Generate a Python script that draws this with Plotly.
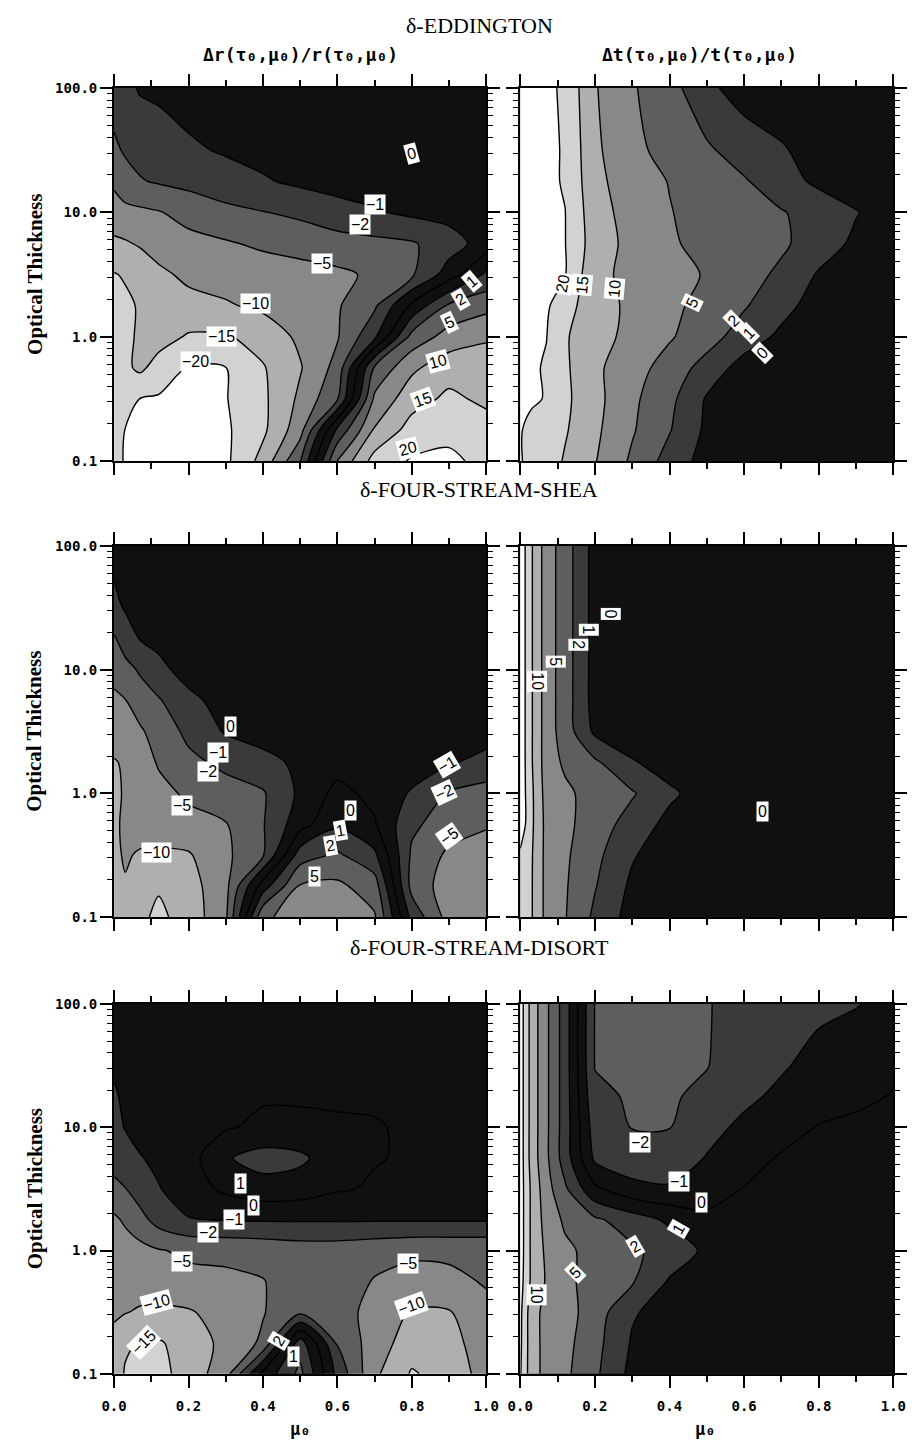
import numpy as np
import plotly.graph_objects as go

# ---------------- data ----------------
MU = [0.0, 0.03, 0.07, 0.12, 0.2, 0.3, 0.4, 0.5, 0.6, 0.7, 0.8, 0.9, 1.0]
TAU = [0.1, 0.178, 0.316, 0.562, 1.0, 1.78, 3.16, 5.62, 10.0, 17.8, 31.6, 100.0]
LEVELS = [-20, -15, -10, -5, -2, -1, 0, 1, 2, 5, 10, 15, 20]

# rows follow TAU (bottom -> top), columns follow MU
EDD_R = [
    [-18, -22, -23.5, -24, -25, -24, -13.3, -2.2, 5.3, 17, 22, 23, 19],
    [-17, -20.5, -23, -23, -24, -23, -16, -7, 1.2, 10.5, 17, 19, 17],
    [-18, -18, -20.3, -22, -23, -21, -16, -9, -2.3, 6, 13, 16, 14],
    [-17.5, -16, -14, -17, -21, -20.4, -15.4, -10.4, -4, 2.4, 9, 13, 12],
    [-17, -16.5, -14, -13, -15.5, -15.5, -13, -9, -5.4, -1.2, 3, 7, 9.5],
    [-16.5, -16, -14.5, -12.5, -11.5, -10.5, -9, -7, -5.5, -2.5, 0.2, 2.5, 4],
    [-15.3, -14.5, -13, -11, -9, -8, -7.5, -7, -6, -4.5, -2.5, -0.5, 1.2],
    [-11, -10.5, -9.5, -8, -6.5, -5.5, -4.5, -3.8, -3.2, -2.8, -2.3, -1.5, -0.5],
    [-7, -6.5, -6, -5.3, -4, -2.8, -2.1, -1.8, -1.4, -1.1, -0.8, -0.6, -0.4],
    [-4.5, -3, -2.2, -1.9, -1.7, -1.4, -1.1, -0.8, -0.6, -0.5, -0.4, -0.3, -0.3],
    [-2.5, -1.9, -1.7, -1.5, -1.15, -0.9, -0.7, -0.5, -0.4, -0.3, -0.3, -0.3, -0.3],
    [-1.6, -1.3, -0.9, -0.8, -0.6, -0.4, -0.4, -0.3, -0.3, -0.3, -0.3, -0.3, -0.3],
]
EDD_T = [
    [21, 19, 17.5, 14.5, 10.3, 4.5, 1.6, 0.6, 0.3, 0.2, 0.1, 0.1, 0.1],
    [21, 19, 18, 15.5, 11, 5.5, 2.2, 0.8, 0.3, 0.2, 0.1, 0.1, 0.1],
    [24, 22, 19.8, 16, 11.5, 6, 2.8, 0.9, 0.4, 0.2, 0.1, 0.1, 0.1],
    [26, 23, 19.5, 15.8, 11, 7, 3.8, 1.6, 0.6, 0.3, 0.2, 0.1, 0.1],
    [28, 25, 20.5, 15.5, 12, 8.5, 5.5, 3.3, 1.5, 0.8, 0.4, 0.2, 0.1],
    [30, 27, 23, 17, 12, 9, 6.2, 4.0, 2.3, 1.3, 0.6, 0.3, 0.2],
    [30, 28, 25, 21, 11, 9, 6.5, 4.8, 3.2, 1.8, 0.9, 0.5, 0.3],
    [30, 28, 25, 20.5, 12.5, 8.5, 5.5, 4.3, 3.5, 2.5, 1.5, 0.8, 0.4],
    [30, 28, 25, 20.4, 12, 8, 5.2, 4.0, 3.0, 2.2, 1.6, 1.05, 0.5],
    [30, 28, 25, 19.5, 11.5, 7, 4.9, 3.5, 2.3, 1.4, 0.8, 0.5, 0.3],
    [30, 28, 25, 19.5, 11, 6, 4.2, 2.5, 1.5, 1.1, 0.6, 0.4, 0.3],
    [30, 28, 25, 19, 10.4, 5.5, 3.2, 1.2, 0.6, 0.4, 0.3, 0.2, 0.2],
]
SHEA_R = [
    [-11, -11, -14, -16, -13, -6, 4.5, 7, 7.5, 5.5, -1.3, -7, -8.5],
    [-11, -10.4, -12, -14.5, -12, -6.5, 0.5, 5.4, 6, 3.5, -3, -7.5, -8],
    [-11, -9.5, -10.5, -11, -10.5, -6, -2.3, 1.5, 2.5, 1.2, -2.5, -6, -6.5],
    [-11, -9, -8, -7, -6.5, -5.3, -2.2, -0.4, 0.8, 0.1, -1.8, -3.5, -4.8],
    [-11, -9.5, -8, -6.5, -4.5, -3, -2.3, -0.8, 0.3, -0.3, -1.1, -2.3, -3.2],
    [-10.3, -9.5, -7.5, -4.7, -2.6, -1.8, -1.3, -0.8, -0.4, -0.3, -0.5, -0.9, -1.3],
    [-8, -7.5, -5.8, -3.5, -1.8, -0.9, -0.6, -0.4, -0.2, -0.1, -0.2, -0.4, -0.6],
    [-6, -5.2, -3.2, -2.3, -1.2, -0.7, -0.4, -0.2, -0.1, -0.1, -0.1, -0.1, -0.2],
    [-4.0, -2.8, -1.9, -1.2, -0.7, -0.4, -0.3, -0.2, -0.1, -0.1, -0.1, -0.1, -0.1],
    [-2.3, -1.6, -0.95, -0.8, -0.5, -0.3, -0.2, -0.2, -0.1, -0.1, -0.1, -0.1, -0.1],
    [-1.3, -0.9, -0.8, -0.6, -0.4, -0.3, -0.2, -0.2, -0.1, -0.1, -0.1, -0.1, -0.1],
    [-0.6, -0.5, -0.4, -0.3, -0.2, -0.2, -0.1, -0.1, -0.1, -0.1, -0.1, -0.1, -0.1],
]
SHEA_T = [
    [18, 15.4, 8.5, 5.3, 1.8, 0.6, 0.2, 0.1, 0.1, 0.1, 0.1, 0.1, 0.1],
    [18, 15.4, 8.5, 5.5, 2.2, 0.8, 0.3, 0.1, 0.1, 0.1, 0.1, 0.1, 0.1],
    [19, 15.5, 8.5, 5.8, 2.8, 1.1, 0.4, 0.2, 0.1, 0.1, 0.1, 0.1, 0.1],
    [34, 16, 8.5, 6.2, 3.5, 1.6, 0.7, 0.3, 0.1, 0.1, 0.1, 0.1, 0.1],
    [34, 16, 8, 6, 3.8, 2.3, 1.2, 0.5, 0.2, 0.1, 0.1, 0.1, 0.1],
    [34, 15.5, 7.5, 4.5, 2.5, 1.1, 0.5, 0.2, 0.1, 0.1, 0.1, 0.1, 0.1],
    [34, 15.5, 7.5, 3.6, 0.8, 0.3, 0.1, 0.1, 0.1, 0.1, 0.1, 0.1, 0.1],
    [34, 15.5, 7.5, 3.5, 0.6, 0.2, 0.1, 0.1, 0.1, 0.1, 0.1, 0.1, 0.1],
    [34, 15.5, 7.5, 3.5, 0.6, 0.2, 0.1, 0.1, 0.1, 0.1, 0.1, 0.1, 0.1],
    [34, 15.5, 7.5, 3.5, 0.6, 0.2, 0.1, 0.1, 0.1, 0.1, 0.1, 0.1, 0.1],
    [34, 15.5, 7.5, 3.5, 0.6, 0.2, 0.1, 0.1, 0.1, 0.1, 0.1, 0.1, 0.1],
    [34, 15.5, 7.5, 3.5, 0.6, 0.2, 0.1, 0.1, 0.1, 0.1, 0.1, 0.1, 0.1],
]
DISORT_R = [
    [-11, -15.6, -17, -16.5, -13, -7, 0.3, 2.8, -1.3, -9, -15.5, -13, -8],
    [-11, -14, -15.5, -15.5, -13, -8.5, -4.5, 1.5, -2.3, -7.5, -12.5, -12, -7],
    [-9.5, -9.8, -10.5, -11, -10.5, -8, -5.3, -2.6, -3.5, -7, -10.5, -10.4, -6],
    [-9, -8.5, -8, -7, -6.3, -6, -5.2, -3.5, -3.5, -5.3, -6.5, -6, -4.8],
    [-8, -7.5, -6.5, -5.3, -4.5, -4.3, -4.0, -3.5, -3.5, -4.0, -4.5, -4.5, -4.5],
    [-6, -4.5, -3, -1.6, -1.05, -0.95, -0.9, -0.9, -0.9, -0.9, -0.9, -0.9, -0.9],
    [-2.6, -2.1, -1.5, -1.05, -0.5, 0.2, 0.6, 0.5, 0.1, -0.1, -0.2, -0.3, -0.3],
    [-1.7, -1.4, -1.05, -0.8, -0.4, 0.9, 1.4, 1.2, 0.4, 0.05, -0.1, -0.2, -0.2],
    [-1.3, -0.95, -0.7, -0.5, -0.3, -0.1, 0.2, 0.2, 0.1, 0.05, -0.1, -0.1, -0.1],
    [-1.1, -0.85, -0.6, -0.45, -0.3, -0.2, -0.1, -0.1, -0.1, -0.1, -0.1, -0.1, -0.1],
    [-0.9, -0.7, -0.5, -0.4, -0.3, -0.2, -0.2, -0.2, -0.2, -0.2, -0.2, -0.2, -0.2],
    [-0.8, -0.6, -0.5, -0.4, -0.3, -0.2, -0.2, -0.2, -0.2, -0.2, -0.2, -0.2, -0.2],
]
DISORT_T = [
    [22, 12, 8.5, 6, 2.6, 0.7, 0.4, 0.3, 0.3, 0.3, 0.3, 0.3, 0.3],
    [24, 12, 8.5, 6.5, 3.0, 0.9, 0.5, 0.4, 0.4, 0.4, 0.4, 0.4, 0.4],
    [25, 12, 8.5, 7, 3.5, 1.1, 0.6, 0.4, 0.4, 0.4, 0.4, 0.4, 0.4],
    [28, 14, 9.5, 5.8, 4.2, 2.3, 0.9, 0.5, 0.4, 0.4, 0.4, 0.4, 0.4],
    [30, 14, 9, 6, 4, 2.5, 1.6, 0.8, 0.5, 0.5, 0.5, 0.5, 0.5],
    [30, 14, 8, 4.5, 2.5, 1.5, 0.8, 0.3, 0.3, 0.4, 0.5, 0.5, 0.5],
    [30, 14, 7, 2.5, 0.2, -0.7, -0.9, -0.6, 0.05, 0.3, 0.4, 0.5, 0.5],
    [30, 13, 6, 1.5, -1.2, -1.6, -1.5, -0.95, -0.4, 0.1, 0.3, 0.4, 0.4],
    [30, 13, 6, 1.5, -1.5, -2.1, -2.1, -1.3, -0.8, -0.4, 0.05, 0.2, 0.3],
    [30, 13, 6, 1.5, -1.8, -2.3, -2.3, -1.8, -1.2, -0.8, -0.4, -0.2, 0.05],
    [30, 13, 6, 1.5, -2.1, -2.5, -2.5, -2.1, -1.5, -1.1, -0.7, -0.4, -0.2],
    [30, 13, 6, 1.5, -2.1, -2.6, -2.6, -2.2, -1.6, -1.4, -1.2, -1.05, -0.7],
]

ROW_TITLES = ["δ-EDDINGTON", "δ-FOUR-STREAM-SHEA", "δ-FOUR-STREAM-DISORT"]
COL_TITLES = ["Δr(τ₀,μ₀)/r(τ₀,μ₀)", "Δt(τ₀,μ₀)/t(τ₀,μ₀)"]
Y_TITLE = "Optical Thickness"
X_TITLE = "μ₀"
X_TICKS = [0.0, 0.2, 0.4, 0.6, 0.8, 1.0]
X_TICK_TEXT = ["0.0", "0.2", "0.4", "0.6", "0.8", "1.0"]
X_MINOR = [0.1, 0.3, 0.5, 0.7, 0.9]
Y_TICKS = [0.1, 1.0, 10.0, 100.0]
Y_TICK_TEXT = ["0.1", "1.0", "10.0", "100.0"]
Y_MINOR = [m * d for d in (0.1, 1.0, 10.0) for m in range(2, 10)]

# contour labels: (text, mu0, tau0, angle)
LABELS = [
    [("0", 0.80, 30, -15), ("−1", 0.70, 11.5, 0), ("−2", 0.66, 8.0, 0), ("−5", 0.56, 3.9, 0),
     ("−10", 0.38, 1.85, 0), ("−15", 0.29, 1.0, 0), ("−20", 0.22, 0.63, 0),
     ("1", 0.96, 2.8, -40), ("2", 0.93, 2.0, -30), ("5", 0.90, 1.3, -25),
     ("10", 0.87, 0.63, -15), ("15", 0.83, 0.31, -20), ("20", 0.79, 0.126, -15)],
    [("20", 0.113, 2.7, -80), ("15", 0.165, 2.6, -85), ("10", 0.252, 2.45, -85),
     ("5", 0.46, 1.9, -65), ("2", 0.572, 1.35, -45), ("1", 0.611, 1.07, -45), ("0", 0.65, 0.74, -45)],
    [("0", 0.313, 3.47, 0), ("−1", 0.279, 2.12, 0), ("−2", 0.253, 1.51, 0), ("−5", 0.183, 0.79, 0),
     ("−10", 0.114, 0.33, 0), ("0", 0.634, 0.72, 0), ("1", 0.608, 0.50, -10), ("2", 0.582, 0.38, -10),
     ("5", 0.539, 0.214, 0), ("−1", 0.895, 1.71, -30), ("−2", 0.886, 1.02, -25), ("−5", 0.899, 0.45, -35)],
    [("0", 0.243, 28, 90), ("1", 0.183, 21, 90), ("2", 0.157, 15.8, 90), ("5", 0.096, 11.7, 90),
     ("10", 0.044, 8.1, 90), ("0", 0.65, 0.71, 0)],
    [("1", 0.34, 3.52, 0), ("0", 0.374, 2.30, 0), ("−1", 0.322, 1.80, 0), ("−2", 0.253, 1.41, 0),
     ("−5", 0.183, 0.81, 0), ("−10", 0.114, 0.38, -15), ("−15", 0.079, 0.18, -45),
     ("2", 0.443, 0.186, -60), ("1", 0.482, 0.138, 0), ("−5", 0.79, 0.79, 0), ("−10", 0.80, 0.355, -20)],
    [("−2", 0.321, 7.57, 0), ("−1", 0.425, 3.63, 0), ("0", 0.486, 2.44, 0), ("1", 0.425, 1.50, -60),
     ("2", 0.308, 1.07, -30), ("5", 0.148, 0.66, -45), ("10", 0.044, 0.44, 90)],
]

PANELS = [EDD_R, EDD_T, SHEA_R, SHEA_T, DISORT_R, DISORT_T]

# ---------------- styling ----------------
W, H = 920, 1454
X_DOM = [(104, 487), (522, 906)]             # px from left
Y_DOM = [(81, 458), (544, 919), (1007, 1381)]  # px from top
GRAYS = ["#101010", "#3a3a3a", "#5e5e5e", "#888888", "#afafaf", "#d2d2d2", "#ffffff"]
MONO = "DejaVu Sans Mono"
SERIF = "Liberation Serif"

# contour levels are unevenly spaced: draw in "level index" space
LEVEL_IDX = list(range(-6, 7))
def to_index(z):
    xp = [-40] + LEVELS + [40]
    fp = [-7] + LEVEL_IDX + [7]
    return np.interp(np.asarray(z, float), xp, fp)

colorscale = [[k / 13, GRAYS[min(int(abs(-6.5 + k)), 6)]] for k in range(14)]
ylog = np.log10(TAU)

fig = go.Figure()
layout = dict(width=W, height=H, margin=dict(l=0, r=0, t=0, b=0),
              paper_bgcolor="white", plot_bgcolor="white", showlegend=False)
annotations = []

for k, Z in enumerate(PANELS):
    r, c = divmod(k, 2)
    sfx = "" if k == 0 else str(k + 1)
    fig.add_trace(go.Contour(
        x=MU, y=ylog, z=to_index(Z), xaxis="x" + sfx, yaxis="y" + sfx,
        autocontour=False,
        contours=dict(start=-6, end=6, size=1, coloring="fill", showlines=True),
        line=dict(color="black", width=1.4, smoothing=0.85),
        colorscale=colorscale, showscale=False, hoverinfo="skip"))

    x0, x1 = X_DOM[c]
    yt, yb = Y_DOM[r]
    layout["xaxis" + sfx] = dict(
        domain=[x0 / W, x1 / W], anchor="y" + sfx, range=[0, 1],
        showline=True, linecolor="black", linewidth=2, mirror="ticks",
        ticks="outside", ticklen=12, tickwidth=1.5, tickcolor="black",
        tickmode="array", tickvals=X_TICKS, ticktext=X_TICK_TEXT,
        showticklabels=(r == 2), ticklabelstandoff=6,
        tickfont=dict(family=MONO, size=14, color="black", weight="bold"),
        minor=dict(tickmode="array", tickvals=X_MINOR, ticks="outside", ticklen=6,
                   tickwidth=1.5, tickcolor="black"),
        showgrid=False, zeroline=False, fixedrange=True)
    layout["yaxis" + sfx] = dict(
        domain=[1 - yb / H, 1 - yt / H], anchor="x" + sfx, range=[-1, 2],
        showline=True, linecolor="black", linewidth=2, mirror="ticks",
        ticks="outside", ticklen=12, tickwidth=1.5, tickcolor="black",
        tickmode="array", tickvals=list(np.log10(Y_TICKS)), ticktext=Y_TICK_TEXT,
        showticklabels=(c == 0),
        tickfont=dict(family=MONO, size=14, color="black", weight="bold"),
        minor=dict(tickmode="array", tickvals=list(np.log10(Y_MINOR)), ticks="outside",
                   ticklen=5, tickwidth=1.2, tickcolor="black"),
        showgrid=False, zeroline=False, fixedrange=True)

    for (txt, mu, tau, ang) in LABELS[k]:
        annotations.append(dict(
            x=mu, y=float(np.log10(tau)), xref="x" + sfx, yref="y" + sfx,
            text=txt, showarrow=False, textangle=ang,
            font=dict(family="Liberation Sans", size=16, color="black"),
            bgcolor="white", borderpad=1))

# row titles and y titles
for r, t in enumerate(ROW_TITLES):
    ypx = [18, 487, 950][r]
    annotations.append(dict(x=480 / W, y=1 - ypx / H, xref="paper", yref="paper",
                            text=t, showarrow=False, xanchor="center", yanchor="middle",
                            font=dict(family=SERIF, size=22, color="black")))
    yc = (Y_DOM[r][0] + Y_DOM[r][1]) / 2
    annotations.append(dict(x=22 / W, y=1 - yc / H, xref="paper", yref="paper",
                            text=Y_TITLE, showarrow=False, textangle=-90,
                            xanchor="center", yanchor="middle",
                            font=dict(family=SERIF, size=21, color="black", weight="bold")))
# column titles and x titles
for c, t in enumerate(COL_TITLES):
    xc = [296, 706][c]
    annotations.append(dict(x=xc / W, y=1 - 47 / H, xref="paper", yref="paper",
                            text=t, showarrow=False, xanchor="center", yanchor="middle",
                            font=dict(family=MONO, size=18, color="black", weight="bold")))
    xm = [295, 712][c]
    annotations.append(dict(x=xm / W, y=1 - 1437 / H, xref="paper", yref="paper",
                            text=X_TITLE, showarrow=False, xanchor="center", yanchor="middle",
                            font=dict(family=MONO, size=17, color="black", weight="bold")))

layout["annotations"] = annotations
fig.update_layout(**layout)
fig.write_html("out.html")
